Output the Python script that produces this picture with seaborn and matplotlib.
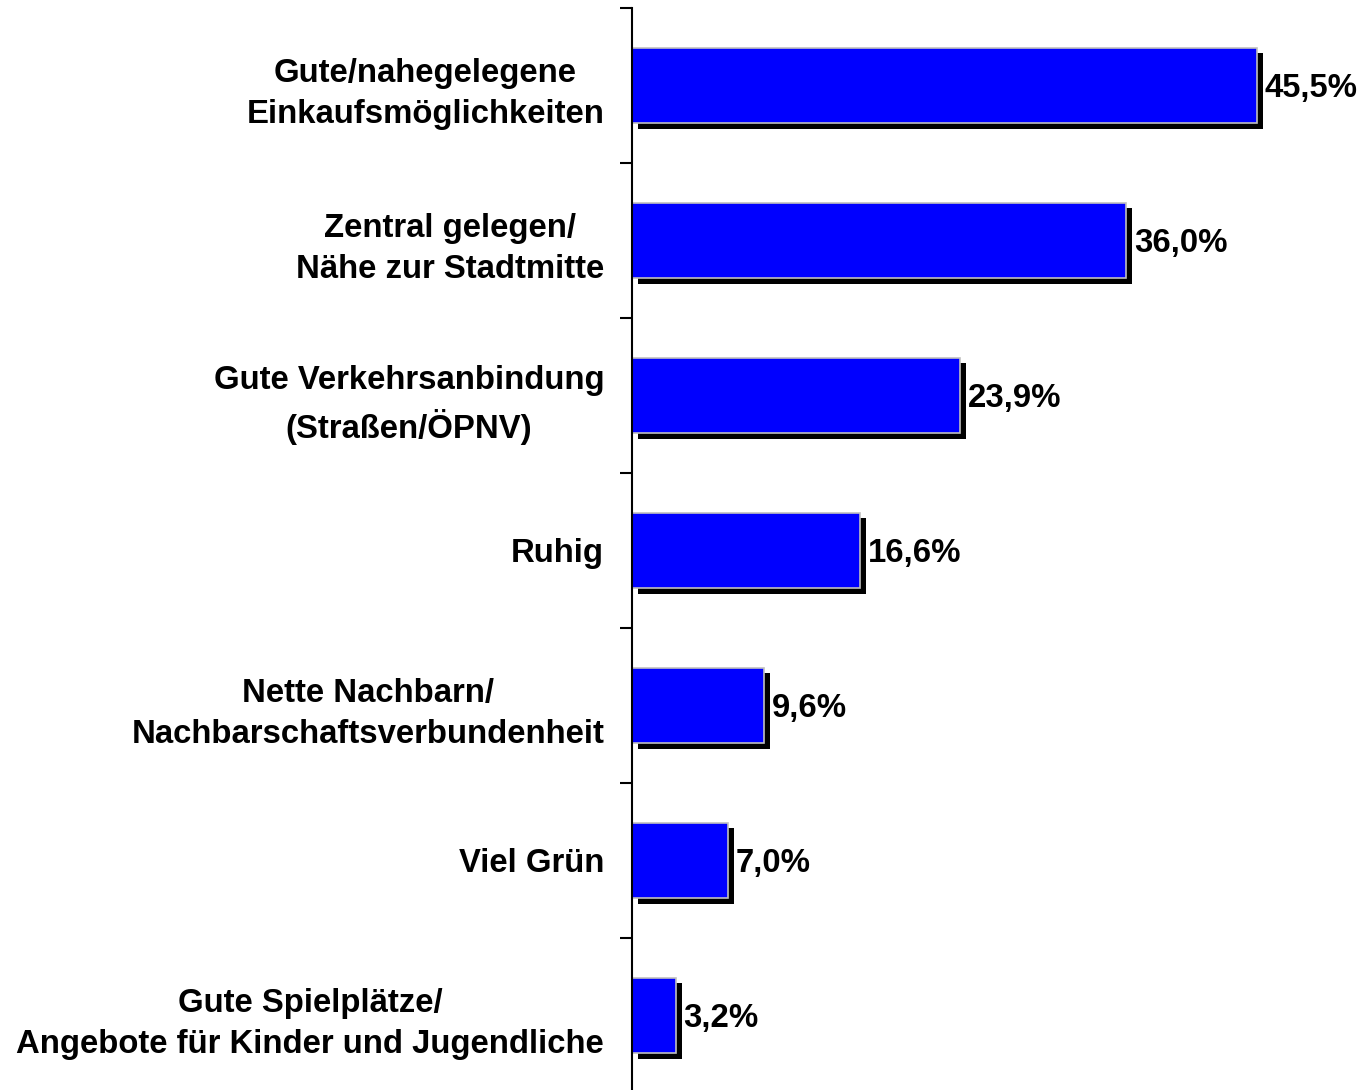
import matplotlib
matplotlib.use("Agg")
import matplotlib.pyplot as plt
import matplotlib.patheffects as pe
import seaborn as sns
import pandas as pd
import numpy as np

categories = [
    "Gute/nahegelegene\nEinkaufsmöglichkeiten",
    "Zentral gelegen/\nNähe zur Stadtmitte",
    "Gute Verkehrsanbindung\n(Straßen/ÖPNV)",
    "Ruhig",
    "Nette Nachbarn/\nNachbarschaftsverbundenheit",
    "Viel Grün",
    "Gute Spielplätze/\nAngebote für Kinder und Jugendliche",
]
values = [45.5, 36.0, 23.9, 16.6, 9.6, 7.0, 3.2]
value_labels = ["45,5%", "36,0%", "23,9%", "16,6%", "9,6%", "7,0%", "3,2%"]

sns.set_theme(style="white")
plt.rcParams["font.family"] = ["Liberation Sans", "DejaVu Sans"]

df = pd.DataFrame({"cat": categories, "val": values})

fig = plt.figure(figsize=(13.61, 10.90), dpi=100)
ax = fig.add_axes([632 / 1361, 1 - 1093 / 1090, 0.999 - 632 / 1361, 1085 / 1090])

sns.barplot(data=df, x="val", y="cat", orient="h", color="#0000ff",
            saturation=1, width=0.49, edgecolor="#c0c0c0", linewidth=1.2, ax=ax)

shadow = [pe.SimplePatchShadow(offset=(4.3, -4.3), shadow_rgbFace="black", alpha=1.0), pe.Normal()]
for p in ax.patches:
    p.set_path_effects(shadow)

for i, (v, lab) in enumerate(zip(values, value_labels)):
    ax.annotate(lab, xy=(v, i), xytext=(5.5, 0), textcoords="offset points",
                ha="left", va="center_baseline", fontsize=23.7, fontweight="bold", color="black")

ax.set_xlim(0, 53)
ax.set_ylim(6.5, -0.5)
ax.set_xlabel("")
ax.set_ylabel("")
ax.set_xticks([])

for s in ["top", "right", "bottom"]:
    ax.spines[s].set_visible(False)
ax.spines["left"].set_color("black")
ax.spines["left"].set_linewidth(1.5)

ax.set_yticks(range(len(categories)))
ax.set_yticklabels(categories, fontsize=23.7, fontweight="bold", color="black",
                   multialignment="center", linespacing=1.42)
ax.tick_params(axis="y", which="major", length=0, pad=20, labelcolor="black")
ax.set_yticks(np.arange(-0.5, len(categories), 1.0), minor=True)
ax.tick_params(axis="y", which="minor", length=9, width=1.5, color="black", direction="out", left=True)

fig.savefig("out.png", dpi=100)
